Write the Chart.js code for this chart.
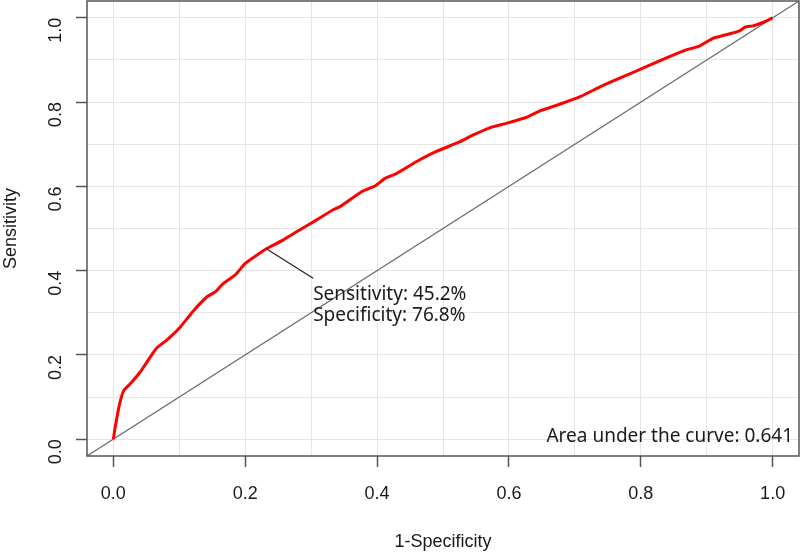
<!DOCTYPE html>
<html>
<head>
<meta charset="utf-8">
<script src="https://cdn.jsdelivr.net/npm/chart.js@4.4.1/dist/chart.umd.min.js"></script>
<style>
	body { margin: 0; background: #fff; }
	#roc { display: block; }
</style>
</head>
<body>
<canvas id="roc" width="800" height="553"></canvas>
<script>
	// ROC curve points
	const fpr = [0, 0.002, 0.0065, 0.011, 0.016, 0.026, 0.041, 0.053, 0.066, 0.081, 0.102, 0.12, 0.142,
		0.155, 0.167, 0.185, 0.2, 0.218, 0.232, 0.258, 0.283, 0.309, 0.334, 0.344, 0.377, 0.397, 0.412,
		0.43, 0.46, 0.49, 0.526, 0.546, 0.571, 0.597, 0.627, 0.647, 0.677, 0.708, 0.738, 0.768, 0.804,
		0.839, 0.869, 0.889, 0.91, 0.925, 0.95, 0.958, 0.97, 0.985, 1];
	const tpr = [0, 0.021, 0.061, 0.093, 0.116, 0.132, 0.16, 0.188, 0.217, 0.235, 0.267, 0.302, 0.338,
		0.35, 0.37, 0.39, 0.417, 0.437, 0.452, 0.473, 0.497, 0.521, 0.545, 0.552, 0.588, 0.601, 0.619,
		0.631, 0.659, 0.683, 0.706, 0.722, 0.739, 0.75, 0.764, 0.779, 0.795, 0.813, 0.836, 0.857, 0.881,
		0.905, 0.924, 0.933, 0.952, 0.958, 0.969, 0.978, 0.981, 0.989, 1];

	// chance line, axis range and ticks
	const diagonal = [-0.04, 1.04];
	const axisRange = [-0.04, 1.04];
	const gridValues = [0, 0.1, 0.2, 0.3, 0.4, 0.5, 0.6, 0.7, 0.8, 0.9, 1];

	// best cut-off and labels
	const cutoff = { x: 0.232, y: 0.452 };
	const cutoffLabels = ['Sensitivity: 45.2%', 'Specificity: 76.8%'];
	const aucLabel = 'Area under the curve: 0.641';

	const isMajor = v => Math.round(v * 10) % 2 === 0;

	const rocPoints = fpr.map((x, i) => ({ x: x, y: tpr[i] }));
	const diagPoints = diagonal.map(v => ({ x: v, y: v }));

	// box round the plot + annotation text
	const extras = {
		id: 'extras',
		afterDraw(chart) {
			const ctx = chart.ctx;
			const a = chart.chartArea;
			const sx = chart.scales.x, sy = chart.scales.y;
			ctx.save();
			ctx.strokeStyle = '#555';
			ctx.lineWidth = 1.5;
			ctx.strokeRect(a.left, a.top, a.right - a.left, a.bottom - a.top);

			// leader line
			const px = sx.getPixelForValue(cutoff.x), py = sy.getPixelForValue(cutoff.y);
			const tx = sx.getPixelForValue(0.303), ty = sy.getPixelForValue(0.382);
			ctx.strokeStyle = '#222';
			ctx.lineWidth = 1.2;
			ctx.beginPath();
			ctx.moveTo(px, py);
			ctx.lineTo(tx, ty);
			ctx.stroke();

			ctx.fillStyle = '#1a1a1a';
			ctx.font = '19px "Noto Sans"';
			ctx.textAlign = 'left';
			ctx.textBaseline = 'alphabetic';
			ctx.fillText(cutoffLabels[0], tx, 300);
			ctx.fillText(cutoffLabels[1], tx, 321);

			ctx.textAlign = 'right';
			ctx.fillText(aucLabel, a.right - 6, 442);
			ctx.restore();
		}
	};

	const tickFont = { family: '"Liberation Sans", Arial, sans-serif', size: 18 };

	function axisOptions(title, isY) {
		return {
			type: 'linear',
			min: axisRange[0],
			max: axisRange[1],
			afterBuildTicks: function (scale) {
				scale.ticks = gridValues.map(v => ({ value: v }));
			},
			afterFit: function (scale) {
				if (isY) scale.width = 87;
				else scale.height = 97;
				// no extra room for the end labels
				scale.paddingTop = 0;
				scale.paddingBottom = 0;
				scale.paddingLeft = 0;
				scale.paddingRight = 0;
			},
			border: { display: false },
			grid: {
				color: '#e6e6e6',
				lineWidth: 1,
				tickLength: 11,
				tickWidth: 1.5,
				tickColor: c => isMajor(c.tick.value) ? '#555' : 'rgba(0,0,0,0)'
			},
			ticks: {
				autoSkip: false,
				font: tickFont,
				color: '#1a1a1a',
				padding: isY ? 20 : 16,
				minRotation: isY ? 90 : 0,
				maxRotation: isY ? 90 : 0,
				callback: v => isMajor(v) ? v.toFixed(1) : ''
			},
			title: {
				display: true,
				text: title,
				font: tickFont,
				color: '#1a1a1a',
				padding: { top: 0, bottom: 0 }
			}
		};
	}

	new Chart(document.getElementById('roc'), {
		type: 'scatter',
		data: {
			datasets: [
				{
					label: 'ROC',
					data: rocPoints,
					showLine: true,
					borderColor: '#ff0000',
					borderWidth: 3,
					pointRadius: 0,
					tension: 0.15
				},
				{
					label: 'chance',
					data: diagPoints,
					showLine: true,
					borderColor: '#6b6b6b',
					borderWidth: 1.2,
					pointRadius: 0
				}
			]
		},
		options: {
			responsive: false,
			devicePixelRatio: 1,
			animation: false,
			layout: { padding: { top: 1, right: 1, left: 0, bottom: 0 } },
			plugins: {
				legend: { display: false },
				tooltip: { enabled: false }
			},
			scales: {
				x: axisOptions('1-Specificity', false),
				y: axisOptions('Sensitivity', true)
			}
		},
		plugins: [extras]
	});
</script>
</body>
</html>
